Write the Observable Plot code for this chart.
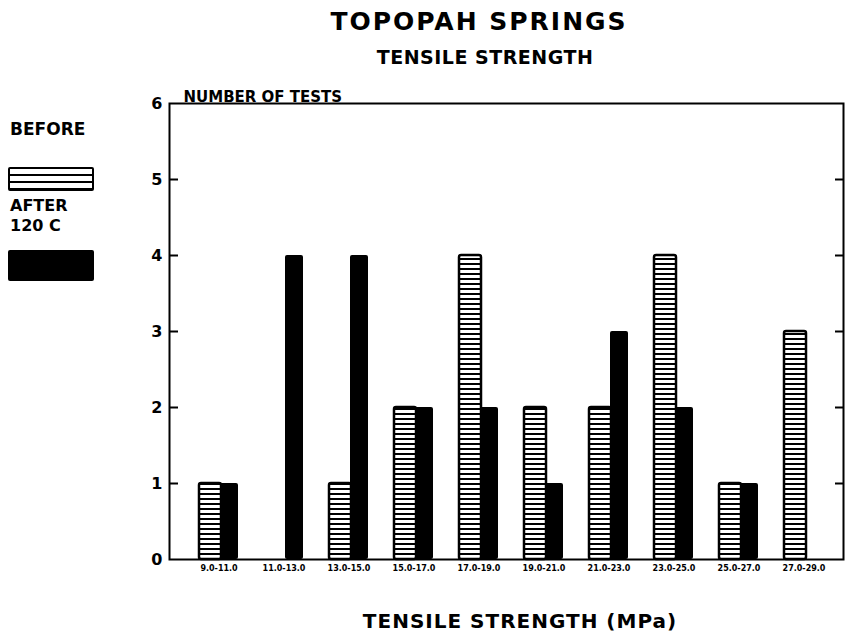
<!DOCTYPE html>
<html>
<head>
<meta charset="utf-8">
<script src="https://cdn.jsdelivr.net/npm/d3@7"></script>
<script src="https://cdn.jsdelivr.net/npm/@observablehq/plot@0.6"></script>
<style>
  html, body { margin: 0; padding: 0; background: #fff; }
  #wrap { position: relative; width: 846px; height: 633px; overflow: hidden; font-family: "DejaVu Sans", sans-serif; font-weight: bold; color: #000; }
  .t { position: absolute; white-space: nowrap; line-height: 1; }
  #title { left: 479px; top: 9px; font-size: 25px; letter-spacing: 2px; transform: translateX(-50%); }
  #subtitle { left: 485px; top: 48px; font-size: 19px; letter-spacing: 0.5px; transform: translateX(-50%); }
  #xlabel { left: 520px; top: 611px; font-size: 20px; letter-spacing: 1px; transform: translateX(-50%); }
  #chart { position: absolute; left: 0; top: 70px; }
  .lg { position: absolute; }
  #lgBefore { left: 10px; top: 121px; font-size: 17px; }
  #lgAfter1 { left: 10px; top: 198px; font-size: 16px; }
  #lgAfter2 { left: 10px; top: 218px; font-size: 16px; }
  #swBefore { left: 8px; top: 167px; width: 82px; height: 20px; border: 2px solid #000; border-radius: 2px;
    background: repeating-linear-gradient(to bottom, #fff 0px, #fff 5px, #000 5px, #000 7px); }
  #swAfter { left: 8px; top: 250px; width: 86px; height: 31px; background: #000; border-radius: 2px; }
</style>
</head>
<body>
<svg width="0" height="0" style="position:absolute">
  <defs>
    <pattern id="stripes" patternUnits="userSpaceOnUse" width="8" height="5">
      <rect width="8" height="5" fill="#fff"></rect>
      <rect y="3" width="8" height="2" fill="#000"></rect>
    </pattern>
  </defs>
</svg>
<div id="wrap">
  <div id="title" class="t">TOPOPAH SPRINGS</div>
  <div id="subtitle" class="t">TENSILE STRENGTH</div>
  <div id="lgBefore" class="t">BEFORE</div>
  <div id="swBefore" class="lg"></div>
  <div id="lgAfter1" class="t">AFTER</div>
  <div id="lgAfter2" class="t">120 C</div>
  <div id="swAfter" class="lg"></div>
  <div id="chart"></div>
  <div id="xlabel" class="t">TENSILE STRENGTH (MPa)</div>
</div>
<script>
// ---- data ----
const categories = ["9.0-11.0", "11.0-13.0", "13.0-15.0", "15.0-17.0", "17.0-19.0",
                    "19.0-21.0", "21.0-23.0", "23.0-25.0", "25.0-27.0", "27.0-29.0"];
const beforeCounts = [1, 0, 1, 2, 4, 2, 2, 4, 1, 3];
const afterCounts  = [1, 4, 4, 2, 2, 1, 3, 2, 1, 0];
const yTicks = [0, 1, 2, 3, 4, 5, 6];
const innerTicks = [1, 2, 3, 4, 5];

const beforeData = categories.map((c, i) => ({cat: c, n: beforeCounts[i]})).filter(d => d.n > 0);
const afterData  = categories.map((c, i) => ({cat: c, n: afterCounts[i]})).filter(d => d.n > 0);

const W = 846, H = 530;
const mL = 169, mR = 3, mT = 33, mB = 41;
const plotW = W - mL - mR;

const chart = Plot.plot({
  width: W,
  height: H,
  marginLeft: mL,
  marginRight: mR,
  marginTop: mT,
  marginBottom: mB,
  style: {fontFamily: "DejaVu Sans, sans-serif", fontWeight: "bold", color: "#000", background: "transparent"},
  x: {type: "band", domain: categories, paddingInner: 0, paddingOuter: 0.13, align: 0.7},
  y: {domain: [0, 6]},
  marks: [
    Plot.barY(beforeData, {x: "cat", y: "n", fill: "url(#stripes)", stroke: "#000", strokeWidth: 2.5,
      insetLeft: 13, insetRight: 30, rx: 2}),
    Plot.barY(afterData, {x: "cat", y: "n", fill: "#000", insetLeft: 34, insetRight: 13, rx: 2}),
    Plot.frame({stroke: "#000", strokeWidth: 2}),
    Plot.tickY(innerTicks, {y: d => d, stroke: "#000", strokeWidth: 2, insetRight: plotW - 9}),
    Plot.tickY(innerTicks, {y: d => d, stroke: "#000", strokeWidth: 2, insetLeft: plotW - 8}),
    Plot.axisY(yTicks, {anchor: "left", tickSize: 0, tickPadding: 7, fontSize: 16, fontWeight: "bold",
      tickFormat: d => String(d), label: null}),
    Plot.axisX({anchor: "bottom", tickSize: 0, tickPadding: 6, fontSize: 8, fontWeight: "bold", label: null}),
    Plot.text(["NUMBER OF TESTS"], {frameAnchor: "top-left", textAnchor: "start", lineAnchor: "bottom",
      dx: 14, dy: -2, fontSize: 15, fontWeight: "bold", fill: "#000"})
  ]
});
document.getElementById("chart").appendChild(chart);
</script>
</body>
</html>
